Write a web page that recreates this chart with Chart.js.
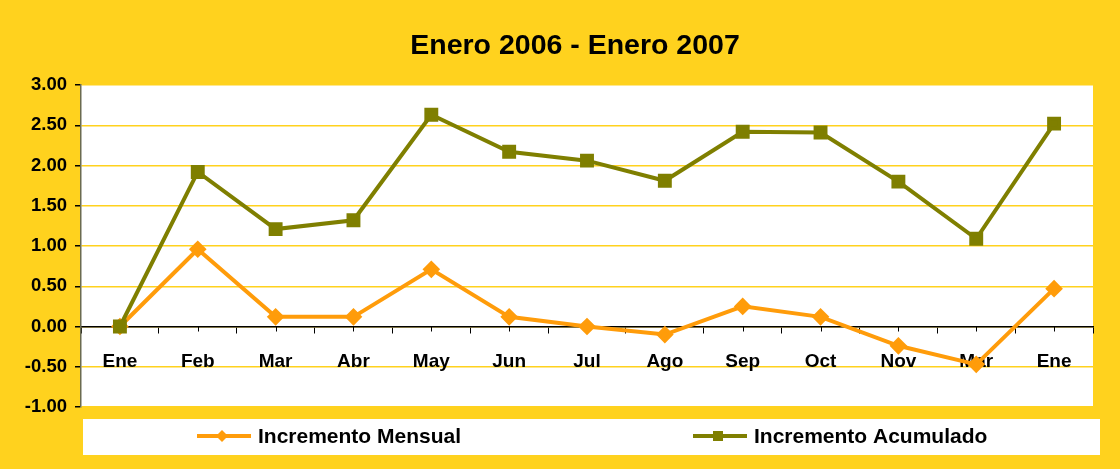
<!DOCTYPE html>
<html lang="es">
<head>
<meta charset="UTF-8" />
<title>Enero 2006 - Enero 2007</title>
<script src="https://cdn.jsdelivr.net/npm/chart.js"></script>
<style>
  html, body { margin: 0; padding: 0; background: #FFD21E; }
  #wrap { width: 1120px; height: 469px; }
</style>
</head>
<body>
<div id="wrap"><canvas id="myChart" width="1120" height="469"></canvas></div>
<script>
const months = ["Ene", "Feb", "Mar", "Abr", "May", "Jun", "Jul", "Ago", "Sep", "Oct", "Nov", "Mar", "Ene"];
const mensual = [0, 0.96, 0.12, 0.12, 0.71, 0.12, 0.00, -0.10, 0.25, 0.12, -0.24, -0.47, 0.47];
const acumulado = [0, 1.92, 1.21, 1.32, 2.63, 2.17, 2.06, 1.81, 2.42, 2.41, 1.80, 1.09, 2.52];
const yTicks = [-1, -0.5, 0, 0.5, 1, 1.5, 2, 2.5, 3];

const YELLOW = "#FFD21E";
const ORANGE = "#FF9C0A";
const OLIVE = "#7F7F00";
const FONT = "'Liberation Sans', Arial, sans-serif";

// white plot area + title + boxed legend + small ticks at category centers
const decor = {
  id: "decor",
  beforeDraw(chart) {
    const { ctx, chartArea: a } = chart;
    ctx.save();
    ctx.fillStyle = YELLOW;
    ctx.fillRect(0, 0, chart.width, chart.height);
    ctx.fillStyle = "#FFFFFF";
    ctx.fillRect(a.left, a.top, a.right - a.left, a.bottom - a.top);
    ctx.fillStyle = "#000";
    ctx.font = "bold 28.5px " + FONT;
    ctx.textAlign = "center";
    ctx.textBaseline = "middle";
    ctx.fillText("Enero 2006 - Enero 2007", chart.width / 2 + 15, 46);
    ctx.restore();
  },
  beforeDatasetsDraw(chart) {
    const { ctx, scales: { x, y } } = chart;
    const y0 = y.getPixelForValue(0);
    ctx.save();
    ctx.strokeStyle = "#000";
    ctx.lineWidth = 1;
    months.forEach((m, i) => {
      const px = Math.round(x.getPixelForValue(i)) + 0.5;
      ctx.beginPath();
      ctx.moveTo(px, y0);
      ctx.lineTo(px, y0 + 5);
      ctx.stroke();
    });
    ctx.restore();
  },
  afterDraw(chart) {
    const { ctx, chartArea: a } = chart;
    ctx.save();
    ctx.fillStyle = "#FFFFFF";
    ctx.fillRect(a.left + 2, 419, 1100 - a.left - 2, 36);
    const starts = [197, 693];
    chart.data.datasets.forEach((ds, i) => {
      const x0 = starts[i], y = 436;
      ctx.strokeStyle = ds.borderColor;
      ctx.lineWidth = 4;
      ctx.beginPath();
      ctx.moveTo(x0, y);
      ctx.lineTo(x0 + 54, y);
      ctx.stroke();
      ctx.fillStyle = ds.borderColor;
      const cx = x0 + 25;
      if (ds.pointStyle === "rectRot") {
        ctx.beginPath();
        ctx.moveTo(cx, y - 6); ctx.lineTo(cx + 6, y); ctx.lineTo(cx, y + 6); ctx.lineTo(cx - 6, y);
        ctx.closePath();
        ctx.fill();
      } else {
        ctx.fillRect(cx - 5, y - 5, 10, 10);
      }
      ctx.fillStyle = "#000";
      ctx.font = "bold 21px " + FONT;
      ctx.textAlign = "left";
      ctx.textBaseline = "middle";
      ctx.fillText(ds.label, x0 + 61, y + 1);
    });
    ctx.restore();
  }
};

const ctx = document.getElementById("myChart").getContext("2d");
new Chart(ctx, {
  type: "line",
  data: {
    labels: months,
    datasets: [
      {
        label: "Incremento Mensual",
        data: mensual,
        borderColor: ORANGE,
        backgroundColor: ORANGE,
        borderWidth: 4,
        pointStyle: "rectRot",
        pointRadius: 6,
        pointHoverRadius: 6,
        tension: 0,
        order: 1
      },
      {
        label: "Incremento Acumulado",
        data: acumulado,
        borderColor: OLIVE,
        backgroundColor: OLIVE,
        borderWidth: 4,
        pointStyle: "rect",
        pointRadius: 7,
        pointHoverRadius: 7,
        tension: 0,
        order: 0
      }
    ]
  },
  options: {
    responsive: false,
    animation: false,
    layout: { padding: { left: 0, right: 27, top: 85, bottom: 62 } },
    plugins: {
      legend: { display: false },
      title: { display: false },
      tooltip: { enabled: false }
    },
    scales: {
      x: {
        position: { y: 0 },
        offset: true,
        z: 1,
        grid: {
          offset: true,
          drawOnChartArea: false,
          color: "#000",
          tickLength: 6
        },
        border: { color: "#000", width: 1.5 },
        ticks: {
          color: "#000",
          padding: 18,
          maxRotation: 0,
          autoSkip: false,
          font: { family: FONT, size: 19, weight: "bold" }
        }
      },
      y: {
        min: -1,
        max: 3,
        afterFit(scale) { scale.width = 81; },
        afterBuildTicks(scale) { scale.ticks = yTicks.map(v => ({ value: v })); },
        grid: {
          color: YELLOW,
          lineWidth: 1.5,
          tickColor: "#000",
          tickLength: 6
        },
        border: { color: "#6B6B50", width: 1.5 },
        ticks: {
          color: "#000",
          padding: 8,
          font: { family: FONT, size: 18.5, weight: "bold" },
          callback: v => v.toFixed(2)
        }
      }
    }
  },
  plugins: [decor]
});
</script>
</body>
</html>
